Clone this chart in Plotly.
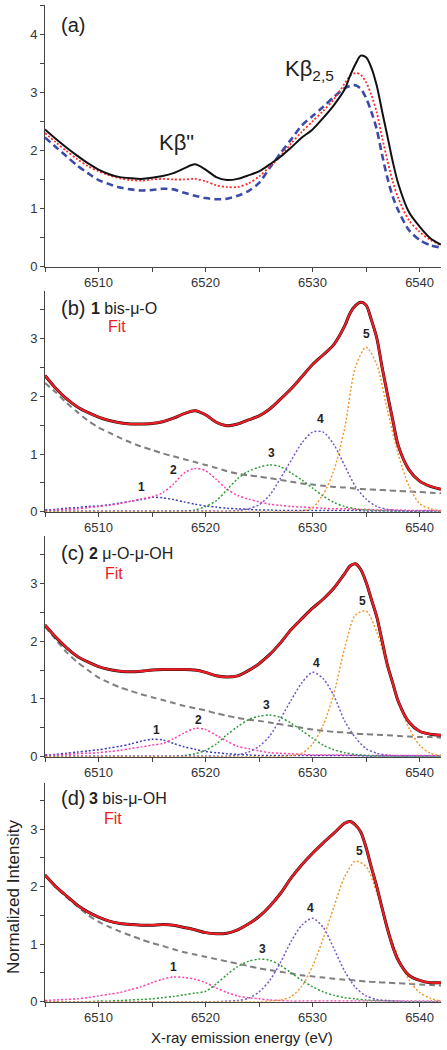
import plotly.graph_objects as go

# ---------------- data ----------------
# energy grid for the measured spectra (eV)
E_MAIN = [6505, 6506, 6507, 6508, 6509, 6510, 6511, 6512, 6513, 6514,
          6515, 6516, 6517, 6518, 6519, 6520, 6521, 6522, 6523, 6524,
          6525, 6526, 6527, 6528, 6529, 6530, 6531, 6532, 6533,
          6533.5, 6534, 6534.5, 6535, 6535.5, 6536, 6536.5, 6537, 6537.5, 6538,
          6539, 6540, 6541, 6542]
# energy grid for fit components (eV)
E_COMP = list(range(6505, 6543))

# panel (a): comparison of the three complexes
A_BLACK = [2.36, 2.20, 2.05, 1.91, 1.78, 1.67, 1.59, 1.54, 1.52, 1.51,
           1.53, 1.56, 1.61, 1.69, 1.76, 1.67, 1.54, 1.49, 1.51, 1.57,
           1.64, 1.76, 1.89, 2.05, 2.22, 2.36, 2.56, 2.78, 3.05,
           3.28, 3.48, 3.63, 3.60, 3.42, 3.11, 2.67, 2.24, 1.80, 1.43,
           0.94, 0.69, 0.49, 0.38]
A_RED = [2.30, 2.14, 1.99, 1.85, 1.73, 1.64, 1.57, 1.52, 1.49, 1.48,
         1.50, 1.51, 1.50, 1.50, 1.51, 1.47, 1.40, 1.37, 1.37, 1.43,
         1.55, 1.72, 1.90, 2.12, 2.32, 2.50, 2.68, 2.88, 3.15,
         3.28, 3.33, 3.30, 3.17, 2.95, 2.65, 2.22, 1.82, 1.46, 1.18,
         0.80, 0.60, 0.46, 0.37]
A_BLUE = [2.22, 2.06, 1.90, 1.74, 1.61, 1.49, 1.42, 1.36, 1.33, 1.31,
          1.32, 1.34, 1.33, 1.27, 1.22, 1.18, 1.16, 1.17, 1.22, 1.30,
          1.44, 1.70, 1.95, 2.19, 2.43, 2.59, 2.75, 2.92, 3.07,
          3.11, 3.12, 3.06, 2.90, 2.66, 2.36, 1.92, 1.52, 1.20, 0.97,
          0.63, 0.46, 0.37, 0.33]

# panel (b): 1 bis-mu-O
B_DATA = [2.36, 2.14, 1.96, 1.82, 1.72, 1.64, 1.58, 1.54, 1.52, 1.52,
          1.53, 1.56, 1.62, 1.70, 1.75, 1.68, 1.55, 1.49, 1.52, 1.59,
          1.66, 1.78, 1.95, 2.13, 2.34, 2.55, 2.72, 2.90, 3.22,
          3.44, 3.57, 3.63, 3.58, 3.32, 3.01, 2.50, 2.03, 1.58, 1.15,
          0.73, 0.53, 0.44, 0.39]
B_FIT = [2.36, 2.14, 1.96, 1.82, 1.72, 1.64, 1.58, 1.54, 1.52, 1.52,
         1.53, 1.56, 1.62, 1.70, 1.75, 1.68, 1.55, 1.49, 1.52, 1.59,
         1.66, 1.78, 1.95, 2.13, 2.34, 2.55, 2.72, 2.90, 3.22,
         3.44, 3.57, 3.63, 3.58, 3.32, 3.01, 2.50, 2.03, 1.58, 1.15,
         0.73, 0.53, 0.44, 0.39]
B_BG = [2.23, 2.07, 1.89, 1.73, 1.58, 1.46, 1.37, 1.28, 1.20, 1.13,
        1.07, 1.01, 0.96, 0.91, 0.86, 0.81, 0.76, 0.70, 0.66, 0.63,
        0.61, 0.58, 0.55, 0.52, 0.49, 0.47, 0.45, 0.43, 0.42, 0.40,
        0.39, 0.38, 0.37, 0.36, 0.35, 0.34, 0.33, 0.32]
B_P1 = [0.03, 0.04, 0.06, 0.07, 0.09, 0.10, 0.12, 0.15, 0.18, 0.21,
        0.25, 0.24, 0.21, 0.17, 0.13, 0.10, 0.08, 0.06, 0.05, 0.04,
        0.03, 0.03, 0.02, 0.02, 0.02, 0.02, 0.02, 0.02, 0.02, 0.02,
        0.01, 0.01, 0.01, 0.01, 0.01, 0.01, 0.01, 0.01]
B_P2 = [0.02, 0.03, 0.04, 0.05, 0.07, 0.09, 0.11, 0.14, 0.18, 0.22,
        0.26, 0.33, 0.48, 0.67, 0.75, 0.71, 0.56, 0.39, 0.28, 0.22,
        0.17, 0.13, 0.11, 0.09, 0.08, 0.07, 0.06, 0.05, 0.05, 0.04,
        0.04, 0.03, 0.03, 0.03, 0.02, 0.02, 0.02, 0.02]
B_P3 = [0.0, 0.0, 0.0, 0.0, 0.0, 0.0, 0.0, 0.0, 0.0, 0.0,
        0.0, 0.0, 0.005, 0.01, 0.03, 0.09, 0.19, 0.38, 0.57, 0.70,
        0.77, 0.81, 0.78, 0.67, 0.55, 0.41, 0.27, 0.16, 0.09, 0.05,
        0.03, 0.02, 0.01, 0.0, 0.0, 0.0, 0.0, 0.0]
B_P4 = [0.01, 0.01, 0.01, 0.01, 0.01, 0.01, 0.01, 0.01, 0.01, 0.01,
        0.01, 0.01, 0.01, 0.01, 0.01, 0.01, 0.01, 0.01, 0.02, 0.05,
        0.12, 0.29, 0.58, 0.89, 1.19, 1.38, 1.38, 1.16, 0.80, 0.44,
        0.22, 0.09, 0.04, 0.02, 0.01, 0.01, 0.01, 0.01]
B_P5 = [0.0, 0.0, 0.0, 0.0, 0.0, 0.0, 0.0, 0.0, 0.0, 0.0,
        0.0, 0.0, 0.0, 0.0, 0.0, 0.0, 0.0, 0.0, 0.0, 0.0,
        0.0, 0.0, 0.0, 0.0, 0.01, 0.07, 0.30, 0.72, 1.45, 2.50,
        2.85, 2.55, 1.75, 1.00, 0.45, 0.14, 0.05, 0.01]

# panel (c): 2 mu-O-mu-OH
C_DATA = [2.28, 2.07, 1.89, 1.74, 1.64, 1.56, 1.51, 1.48, 1.47, 1.48,
          1.50, 1.51, 1.51, 1.51, 1.50, 1.46, 1.40, 1.38, 1.40, 1.49,
          1.61, 1.77, 1.97, 2.20, 2.39, 2.57, 2.73, 2.92, 3.17,
          3.30, 3.34, 3.24, 3.02, 2.72, 2.42, 2.00, 1.58, 1.27, 0.96,
          0.60, 0.44, 0.39, 0.37]
C_FIT = [2.28, 2.07, 1.89, 1.74, 1.64, 1.56, 1.51, 1.48, 1.47, 1.48,
         1.50, 1.51, 1.51, 1.51, 1.50, 1.46, 1.40, 1.38, 1.40, 1.49,
         1.61, 1.77, 1.97, 2.20, 2.39, 2.57, 2.73, 2.92, 3.17,
         3.30, 3.34, 3.24, 3.02, 2.72, 2.42, 2.00, 1.58, 1.27, 0.96,
         0.60, 0.44, 0.39, 0.37]
C_BG = [2.25, 2.03, 1.81, 1.64, 1.50, 1.37, 1.28, 1.20, 1.14, 1.08,
        1.03, 0.98, 0.93, 0.88, 0.84, 0.80, 0.75, 0.71, 0.67, 0.64,
        0.62, 0.59, 0.56, 0.53, 0.50, 0.47, 0.45, 0.43, 0.42, 0.40,
        0.39, 0.38, 0.37, 0.36, 0.35, 0.34, 0.34, 0.33]
C_P1 = [0.03, 0.04, 0.06, 0.08, 0.10, 0.12, 0.15, 0.18, 0.22, 0.27,
        0.30, 0.29, 0.23, 0.17, 0.13, 0.09, 0.07, 0.05, 0.04, 0.03,
        0.02, 0.02, 0.02, 0.02, 0.02, 0.02, 0.02, 0.02, 0.02, 0.02,
        0.01, 0.01, 0.01, 0.01, 0.01, 0.01, 0.01, 0.01]
C_P2 = [0.02, 0.03, 0.04, 0.05, 0.06, 0.07, 0.09, 0.11, 0.14, 0.17,
        0.20, 0.23, 0.31, 0.41, 0.49, 0.47, 0.37, 0.27, 0.18, 0.14,
        0.10, 0.07, 0.06, 0.05, 0.04, 0.03, 0.03, 0.03, 0.03, 0.02,
        0.02, 0.02, 0.02, 0.02, 0.02, 0.02, 0.02, 0.02]
C_P3 = [0.0, 0.0, 0.0, 0.0, 0.0, 0.0, 0.0, 0.0, 0.0, 0.0,
        0.0, 0.0, 0.0, 0.02, 0.05, 0.11, 0.22, 0.38, 0.52, 0.64,
        0.70, 0.72, 0.68, 0.58, 0.45, 0.32, 0.20, 0.12, 0.07, 0.04,
        0.02, 0.01, 0.0, 0.0, 0.0, 0.0, 0.0, 0.0]
C_P4 = [0.01, 0.01, 0.01, 0.01, 0.01, 0.01, 0.01, 0.01, 0.01, 0.01,
        0.01, 0.01, 0.01, 0.01, 0.01, 0.01, 0.01, 0.01, 0.03, 0.08,
        0.18, 0.36, 0.66, 0.98, 1.28, 1.46, 1.35, 1.05, 0.62, 0.33,
        0.14, 0.06, 0.03, 0.01, 0.01, 0.01, 0.01, 0.01]
C_P5 = [0.0, 0.0, 0.0, 0.0, 0.0, 0.0, 0.0, 0.0, 0.0, 0.0,
        0.0, 0.0, 0.0, 0.0, 0.0, 0.0, 0.0, 0.0, 0.0, 0.0,
        0.0, 0.0, 0.0, 0.02, 0.06, 0.22, 0.55, 1.10, 1.88, 2.45,
        2.52, 2.16, 1.55, 0.95, 0.50, 0.20, 0.06, 0.02]

# panel (d): 3 bis-mu-OH
D_DATA = [2.20, 2.00, 1.84, 1.68, 1.56, 1.47, 1.40, 1.36, 1.34, 1.33,
          1.33, 1.34, 1.33, 1.29, 1.25, 1.20, 1.18, 1.19, 1.25, 1.35,
          1.48, 1.66, 1.88, 2.15, 2.38, 2.58, 2.76, 2.93, 3.10,
          3.13, 3.07, 2.95, 2.68, 2.33, 2.00, 1.62, 1.26, 0.95, 0.72,
          0.46, 0.37, 0.33, 0.33]
D_FIT = [2.20, 2.00, 1.84, 1.68, 1.56, 1.47, 1.40, 1.36, 1.34, 1.33,
         1.33, 1.34, 1.33, 1.29, 1.25, 1.20, 1.18, 1.19, 1.25, 1.35,
         1.48, 1.66, 1.88, 2.15, 2.38, 2.58, 2.76, 2.93, 3.10,
         3.13, 3.07, 2.95, 2.68, 2.33, 2.00, 1.62, 1.26, 0.95, 0.72,
         0.46, 0.37, 0.33, 0.33]
D_BG = [2.20, 2.00, 1.82, 1.66, 1.51, 1.39, 1.30, 1.22, 1.15, 1.08,
        1.02, 0.97, 0.91, 0.86, 0.82, 0.78, 0.74, 0.70, 0.66, 0.62,
        0.58, 0.55, 0.52, 0.49, 0.46, 0.44, 0.42, 0.40, 0.38, 0.37,
        0.35, 0.34, 0.33, 0.32, 0.31, 0.30, 0.29, 0.28]
D_P1 = [0.02, 0.03, 0.04, 0.05, 0.07, 0.10, 0.13, 0.16, 0.21, 0.26,
        0.33, 0.39, 0.43, 0.42, 0.39, 0.33, 0.24, 0.16, 0.10, 0.07,
        0.05, 0.03, 0.02, 0.01, 0.01, 0.01, 0.01, 0.01, 0.01, 0.01,
        0.01, 0.01, 0.01, 0.01, 0.01, 0.01, 0.01, 0.01]
D_P3 = [0.0, 0.0, 0.0, 0.0, 0.0, 0.01, 0.01, 0.02, 0.03, 0.04,
        0.05, 0.07, 0.09, 0.12, 0.15, 0.18, 0.31, 0.47, 0.61, 0.70,
        0.74, 0.72, 0.63, 0.50, 0.37, 0.26, 0.17, 0.11, 0.07, 0.05,
        0.03, 0.02, 0.01, 0.0, 0.0, 0.0, 0.0, 0.0]
D_P4 = [0.0, 0.0, 0.0, 0.0, 0.0, 0.0, 0.0, 0.0, 0.0, 0.0,
        0.0, 0.0, 0.0, 0.0, 0.0, 0.0, 0.0, 0.01, 0.02, 0.06,
        0.17, 0.37, 0.68, 1.05, 1.33, 1.45, 1.29, 0.92, 0.53, 0.25,
        0.10, 0.04, 0.02, 0.01, 0.0, 0.0, 0.0, 0.0]
D_P5 = [0.0, 0.0, 0.0, 0.0, 0.0, 0.0, 0.0, 0.0, 0.0, 0.0,
        0.0, 0.0, 0.0, 0.0, 0.0, 0.0, 0.0, 0.0, 0.0, 0.0,
        0.0, 0.01, 0.03, 0.09, 0.27, 0.62, 1.10, 1.65, 2.17, 2.44,
        2.35, 1.90, 1.30, 0.78, 0.38, 0.16, 0.06, 0.01]

# component label positions (energy, intensity) and texts
B_LABELS = [("1", 6514.0, 0.42), ("2", 6517.0, 0.72), ("3", 6526.2, 1.02),
            ("4", 6530.7, 1.60), ("5", 6535.0, 3.08)]
C_LABELS = [("1", 6515.4, 0.47), ("2", 6519.3, 0.63), ("3", 6525.7, 0.89),
            ("4", 6530.4, 1.62), ("5", 6534.7, 2.69)]
D_LABELS = [("1", 6517.0, 0.60), ("3", 6525.3, 0.91),
            ("4", 6529.8, 1.62), ("5", 6534.4, 2.62)]

# ---------------- styling ----------------
FONT = "Arial, 'Liberation Sans', Helvetica, sans-serif"
W, H = 447, 1050
ML, MR = 45, 6
PW = W - ML - MR

COL_GRAY = "#7f7f7f"
COL_1 = "#3a3ab8"
COL_2 = "#ff3da8"
COL_3 = "#2e9a3a"
COL_4 = "#7755c4"
COL_5 = "#f7962a"
COL_RED = "#ee1c24"


def px_x(px):
    return (px - ML) / PW


def px_y(py):
    return 1 - py / H


fig = go.Figure()


def line(x, y, ax, color, width, dash="solid"):
    fig.add_trace(go.Scatter(
        x=x, y=y, mode="lines", xaxis="x" + ax, yaxis="y" + ax,
        line=dict(color=color, width=width, dash=dash, shape="spline", smoothing=0.8),
        showlegend=False, hoverinfo="skip"))


# panel (a)
line(E_MAIN, A_BLUE, "", "#3b4ba8", 2.6, "7px,4px")
line(E_MAIN, A_RED, "", "#ff2a2a", 1.8, "2px,2px")
line(E_MAIN, A_BLACK, "", "#111111", 2.0)

DOT = "2px,2px"
for ax, bg, comps, data, fit in [
    ("2", B_BG, [(B_P1, COL_1), (B_P2, COL_2), (B_P3, COL_3), (B_P4, COL_4), (B_P5, COL_5)], B_DATA, B_FIT),
    ("3", C_BG, [(C_P1, COL_1), (C_P2, COL_2), (C_P3, COL_3), (C_P4, COL_4), (C_P5, COL_5)], C_DATA, C_FIT),
    ("4", D_BG, [(D_P1, COL_2), (D_P3, COL_3), (D_P4, COL_4), (D_P5, COL_5)], D_DATA, D_FIT),
]:
    line(E_COMP, bg, ax, COL_GRAY, 2.0, "6px,4px")
    for vals, col in comps:
        line(E_COMP, vals, ax, col, 1.5, DOT)
    line(E_MAIN, data, ax, "#111111", 3.0)
    line(E_MAIN, fit, ax, COL_RED, 2.2)

# axes
domains = {
    "": ([px_y(266.7), px_y(5)], [0, 4.5]),
    "2": ([px_y(511.7), px_y(290.7)], [0, 3.83]),
    "3": ([px_y(756.7), px_y(536)], [0, 3.82]),
    "4": ([px_y(1001.7), px_y(783)], [0, 3.80]),
}
axis_common = dict(showline=True, linecolor="#444444", linewidth=1, ticks="outside",
                   ticklen=4, tickwidth=1, tickcolor="#444444", showgrid=False,
                   zeroline=False, tickfont=dict(family=FONT, size=13, color="#333333"))
layout = dict(width=W, height=H, margin=dict(l=ML, r=MR, t=0, b=0, autoexpand=False),
              paper_bgcolor="white", plot_bgcolor="white", showlegend=False,
              font=dict(family=FONT, color="#222222"))
for ax, (dom, rng) in domains.items():
    layout["xaxis" + ax] = dict(domain=[0, 1], range=[6505, 6542], anchor="y" + ax,
                                tick0=6510, dtick=10,
                                minor=dict(tick0=6505, dtick=5, ticks="outside", ticklen=4,
                                           tickcolor="#444444", showgrid=False),
                                **axis_common)
    layout["yaxis" + ax] = dict(domain=dom, range=rng, anchor="x" + ax,
                                tick0=0, dtick=1,
                                minor=dict(tick0=0, dtick=0.5, ticks="outside", ticklen=4,
                                           tickcolor="#444444", showgrid=False),
                                **axis_common)
fig.update_layout(**layout)

ann = []


def text(t, x, y, size, color="#222222", xanchor="left", xref="paper", yref="paper", **kw):
    ann.append(dict(text=t, x=x, y=y, xref=xref, yref=yref, xanchor=xanchor,
                    yanchor="middle", showarrow=False,
                    font=dict(family=FONT, size=size, color=color), **kw))


# panel titles
text("(a)", px_x(59), px_y(25.5), 20)
text("(b)", px_x(59), px_y(307.5), 20)
text("<b>1</b> bis-μ-O", px_x(89), px_y(308), 16)
text("Fit", px_x(106), px_y(326.5), 16, COL_RED)
text("(c)", px_x(59), px_y(553), 20)
text("<b>2</b> μ-O-μ-OH", px_x(87), px_y(553.5), 16)
text("Fit", px_x(103), px_y(573), 16, COL_RED)
text("(d)", px_x(59), px_y(797.5), 20)
text("<b>3</b> bis-μ-OH", px_x(87), px_y(798), 16)
text("Fit", px_x(102), px_y(818), 16, COL_RED)

# peak names in (a)
text("Kβ\"", 6517.3, 2.13, 22, xanchor="center", xref="x", yref="y")
text("Kβ<sub>2,5</sub>", 6527.2, 3.38, 22, xanchor="left", xref="x", yref="y")

# component numbers
for ax, labels in [("2", B_LABELS), ("3", C_LABELS), ("4", D_LABELS)]:
    for t, x, y in labels:
        text("<b>" + t + "</b>", x, y, 12, xanchor="center", xref="x" + ax, yref="y" + ax)

# axis titles
text("X-ray emission energy (eV)", px_x(242), px_y(1037), 15, xanchor="center")
text("Normalized Intensity", px_x(13), px_y(897), 17, xanchor="center", textangle=-90)

fig.update_layout(annotations=ann)
fig.write_html("out.html", config={"displayModeBar": False},
               post_script="document.body.style.margin='0';document.body.style.overflow='hidden';")
